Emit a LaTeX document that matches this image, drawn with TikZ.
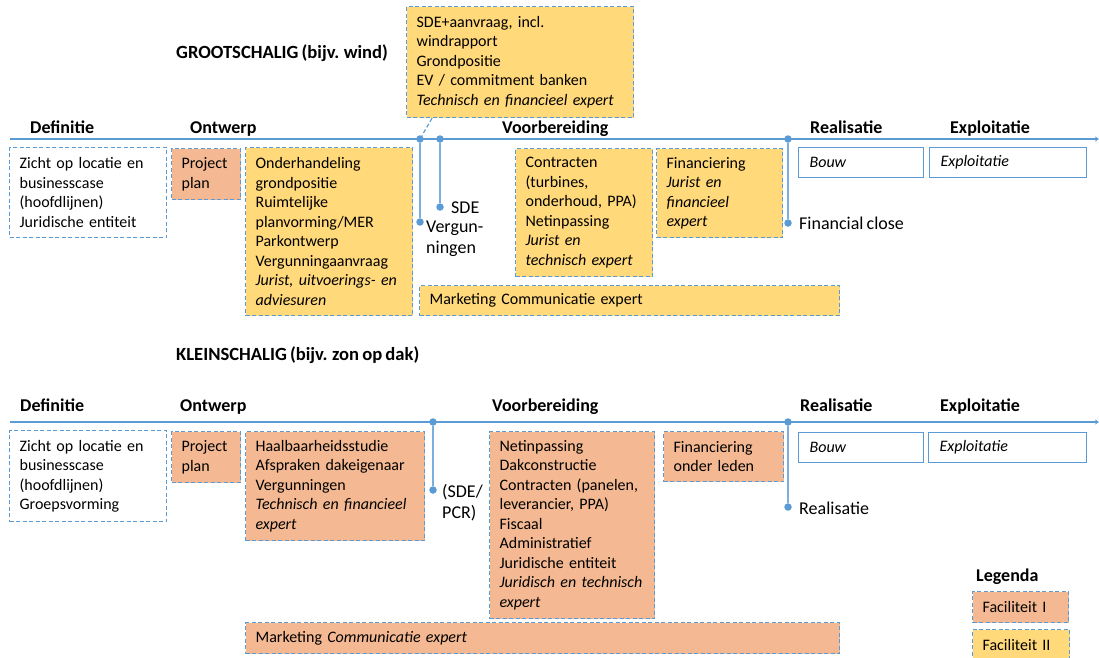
\documentclass[tikz,border=0pt]{standalone}
\usepackage{fontspec}
\setmainfont{Carlito}[WordSpace = 0.75]
\usetikzlibrary{arrows.meta}
\definecolor{lijnblauw}{RGB}{91,155,213}
\definecolor{geel}{RGB}{255,217,122}
\definecolor{oranje}{RGB}{244,185,146}
\tikzset{
  fase/.style = {font = \fontsize{18}{21}\selectfont\bfseries, anchor = base west, inner sep = 0pt},
  titel/.style = {font = \fontsize{18.6}{21}\selectfont\bfseries, anchor = base west, inner sep = 0pt},
  blok/.style = {draw = lijnblauw, line width = 1.2pt, dash pattern = on 4pt off 2.5pt,
    anchor = north west, align = left, inner xsep = 10pt, inner ysep = 0pt,
    font = \fontsize{16}{19.5}\selectfont},
  geelblok/.style = {blok, fill = geel},
  oranjeblok/.style = {blok, fill = oranje},
  witblok/.style = {blok, fill = white},
  vastblok/.style = {draw = lijnblauw, line width = 1.2pt, fill = white, anchor = north west,
    align = left, inner xsep = 11pt, inner ysep = 0pt, font = \fontsize{16}{19.5}\selectfont\itshape},
  tijdlijn/.style = {draw = lijnblauw, line width = 2.2pt, -{Stealth[length = 4pt, width = 5pt]}},
  mijlpaal/.style = {circle, fill = lijnblauw, inner sep = 0pt, minimum size = 7.5pt},
  steel/.style = {draw = lijnblauw!80, line width = 1.3pt},
  label/.style = {font = \fontsize{18}{21}\selectfont, anchor = west, align = left, inner sep = 0pt}
}
\begin{document}
\begin{tikzpicture}[x = 1pt, y = -1pt]
\useasboundingbox (0, 0) rectangle (1099, 657);
%\draw[very thin, color = gray, step = 50] (0, 0) grid (1099, 657);

% ---------- grootschalig ----------
\node [titel] (titelgroot) at (176, 58) {GROOTSCHALIG (bijv. wind)};
\draw [tijdlijn] (10, 139) -- (1099, 139);
\node [fase] (defg) at (30, 133) {Definitie};
\node [fase] (ontg) at (190, 133) {Ontwerp};
\node [fase] (voog) at (502, 133) {Voorbereiding};
\node [fase] (reag) at (810, 133) {Realisatie};
\node [fase] (expg) at (950, 133) {Exploitatie};

\node [geelblok, minimum width = 227pt, minimum height = 111pt, text width = 207pt] (sdeaanvraag) at (406, 6)
  {SDE+aanvraag, incl.\\ windrapport\\ Grondpositie\\ EV / commitment banken\\ \textit{Technisch en financieel expert}};

\node [mijlpaal] (m1) at (420, 139) {};
\node [mijlpaal] (m2) at (440, 139) {};
\node [mijlpaal] (m1e) at (420, 222) {};
\node [mijlpaal] (m2e) at (440, 207) {};
\node [mijlpaal] (m3) at (788, 139) {};
\node [mijlpaal] (m3e) at (788, 223) {};
\draw [steel] (m1) -- (m1e);
\draw [steel] (m2) -- (m2e);
\draw [steel] (m3) -- (m3e);
\draw [lijnblauw, line width = 1.2pt, dash pattern = on 4pt off 2.5pt] (sdeaanvraag.south west) ++(26, 0) -- (m1);
\node [label] (sde) at (451, 208) {SDE};
\node [label] (vergun) at (426, 239) {Vergun-\\ningen};
\node [label] (finclose) at (799, 223) {Financial close};

\node [witblok, minimum width = 157pt, minimum height = 90pt, text width = 137pt] (defboxg) at (9, 147)
  {Zicht op locatie en\\ businesscase\\ (hoofdlijnen)\\ Juridische entiteit};
\node [oranjeblok, minimum width = 69pt, minimum height = 51pt, text width = 49pt] (plang) at (171, 148)
  {Project\\ plan};
\node [geelblok, minimum width = 167pt, minimum height = 168pt, text width = 147pt] (onderh) at (245, 147)
  {Onderhandeling\\ grondpositie\\ Ruimtelijke\\ planvorming/MER\\ Parkontwerp\\ Vergunningaanvraag\\ \textit{Jurist, uitvoerings- en}\\ \textit{adviesuren}};
\node [geelblok, minimum width = 137pt, minimum height = 128pt, text width = 117pt] (contr) at (515, 148)
  {Contracten\\ (turbines,\\ onderhoud, PPA)\\ Netinpassing\\ \textit{Jurist en}\\ \textit{technisch expert}};
\node [geelblok, minimum width = 126pt, minimum height = 89pt, text width = 106pt] (finang) at (656, 148)
  {Financiering\\ \textit{Jurist en}\\ \textit{financieel}\\ \textit{expert}};
\node [vastblok, minimum width = 125pt, minimum height = 30pt, text width = 103pt] (bouwg) at (798, 147) {Bouw};
\node [vastblok, minimum width = 157pt, minimum height = 30pt, text width = 135pt] (explg) at (929, 147) {Exploitatie};
\node [geelblok, minimum width = 420pt, minimum height = 30pt, text width = 400pt] (markg) at (419, 285)
  {Marketing Communicatie expert};

% ---------- kleinschalig ----------
\node [titel] (titelklein) at (176, 360) {KLEINSCHALIG (bijv. zon op dak)};
\draw [tijdlijn] (10, 422) -- (1099, 422);
\node [fase] (defk) at (20, 411) {Definitie};
\node [fase] (ontk) at (180, 411) {Ontwerp};
\node [fase] (vook) at (492, 411) {Voorbereiding};
\node [fase] (reak) at (800, 411) {Realisatie};
\node [fase] (expk) at (940, 411) {Exploitatie};

\node [mijlpaal] (k1) at (433, 422) {};
\node [mijlpaal] (k1e) at (433, 490) {};
\node [mijlpaal] (k2) at (788, 422) {};
\node [mijlpaal] (k2e) at (788, 507) {};
\draw [steel] (k1) -- (k1e);
\draw [steel] (k2) -- (k2e);
\node [label] (sdepcr) at (442, 503) {(SDE/\\PCR)};
\node [label] (realis) at (799, 508) {Realisatie};

\node [witblok, minimum width = 157pt, minimum height = 91pt, text width = 137pt] (defboxk) at (9, 430)
  {Zicht op locatie en\\ businesscase\\ (hoofdlijnen)\\ Groepsvorming};
\node [oranjeblok, minimum width = 69pt, minimum height = 51pt, text width = 49pt] (plank) at (171, 431)
  {Project\\ plan};
\node [oranjeblok, minimum width = 179pt, minimum height = 109pt, text width = 159pt] (haalb) at (245, 431)
  {Haalbaarheidsstudie\\ Afspraken dakeigenaar\\ Vergunningen\\ \textit{Technisch en financieel}\\ \textit{expert}};
\node [oranjeblok, minimum width = 165pt, minimum height = 187pt, text width = 145pt] (netinp) at (489, 431)
  {Netinpassing\\ Dakconstructie\\ Contracten (panelen,\\ leverancier, PPA)\\ Fiscaal\\ Administratief\\ Juridische entiteit\\ \textit{Juridisch en technisch}\\ \textit{expert}};
\node [oranjeblok, minimum width = 120pt, minimum height = 50pt, text width = 100pt] (finank) at (663, 431)
  {Financiering\\ onder leden};
\node [vastblok, minimum width = 125pt, minimum height = 30pt, text width = 103pt] (bouwk) at (798, 432) {Bouw};
\node [vastblok, minimum width = 158pt, minimum height = 30pt, text width = 136pt] (explk) at (928, 432) {Exploitatie};
\node [oranjeblok, minimum width = 594pt, minimum height = 31pt, text width = 574pt] (markk) at (245, 622)
  {Marketing \textit{Communicatie expert}};

% ---------- legenda ----------
\node [font = \fontsize{18}{21}\selectfont\bfseries, anchor = base west, inner sep = 0pt] (legenda) at (976, 581) {Legenda};
\node [oranjeblok, minimum width = 96pt, minimum height = 31pt, text width = 76pt] (fac1) at (972, 591) {Faciliteit I};
\node [geelblok, minimum width = 97pt, minimum height = 31pt, text width = 77pt] (fac2) at (972, 629) {Faciliteit II};
\end{tikzpicture}
\end{document}
